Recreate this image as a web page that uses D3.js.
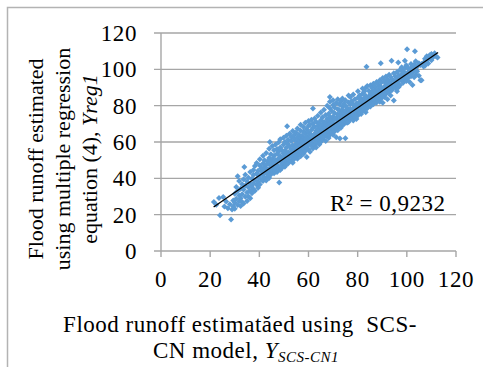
<!DOCTYPE html>
<html>
<head>
<meta charset="utf-8">
<style>
    body { margin: 0; background: #fff; }
    svg { display: block; font-family: 'Liberation Serif', 'Times New Roman', serif; }
    .tick-label { font-size: 23px; letter-spacing: 0.6px; fill: #000; }
    .title { font-size: 23px; letter-spacing: 0.5px; fill: #000; white-space: pre; }
    .ytitle { font-size: 22px; fill: #000; }
</style>
</head>
<body>
<svg width="483" height="367"></svg>

<script src="https://cdnjs.cloudflare.com/ajax/libs/d3/7.8.5/d3.min.js"></script>
<script>
    // values: [SCS-CN runoff, regression runoff]
    let points = [
        [21.5, 27], [22.5, 25.5], [23.6, 29.2], [24.0, 19.7], [25.3, 29.7], [25.8, 24.5], [26.5, 27.2], [27.2, 23.5],
        [28.5, 17.3], [28.0, 25.8], [28.9, 22.8], [29.4, 24.6], [29.4, 27.8],
        [30.0, 23.2], [30.0, 26.5], [30.0, 31.5], [30.6, 28.8], [30.6, 35.2], [31.2, 41.2], [31.2, 25.3], [31.2, 33.0],
        [31.8, 27.4], [31.8, 30.5], [31.8, 38.5], [32.4, 24.8], [32.4, 34.2], [32.4, 29.0], [33.0, 36.8], [33.0, 31.2], [33.0, 27.0],
        [33.6, 26.1], [33.6, 39.5], [33.6, 33.8], [33.9, 46.3], [34.3, 29.8], [34.3, 36.0], [34.3, 42.0],
        [35.0, 27.5], [35.0, 32.2], [35.0, 38.2], [35.6, 34.9], [35.6, 40.3], [35.6, 30.0],
        [36.3, 29.0], [36.3, 37.0], [36.3, 43.5], [36.3, 33.0], [37.0, 35.2], [37.0, 39.8], [37.0, 31.8],
        [37.6, 41.8], [37.6, 37.2], [37.6, 44.6], [37.6, 34.0], [38.2, 33.2], [38.2, 39.0], [38.2, 46.8],
        [38.9, 36.4], [38.9, 42.6], [38.9, 48.5], [39.5, 38.0], [39.5, 44.2], [39.5, 34.8], [39.5, 40.5],
        [40.2, 41.4], [40.2, 47.0], [40.2, 36.6], [40.2, 50.5], [40.8, 39.2], [40.8, 43.8], [40.8, 45.6],
        [41.5, 38.5], [41.5, 42.0], [41.5, 48.2], [41.5, 52.5], [41.5, 44.8], [42.1, 40.5], [42.1, 46.2], [42.1, 43.1], [42.1, 50.0],
        [42.8, 38.8], [42.8, 44.5], [42.8, 47.6], [42.8, 54.0], [43.4, 42.3], [43.4, 49.4], [43.4, 45.2], [43.4, 41.0],
        [44.0, 43.6], [44.0, 51.2], [44.0, 47.8], [44.0, 56.3], [44.0, 40.2], [44.3, 60.0],
        [44.7, 45.8], [44.7, 42.1], [44.7, 49.0], [44.7, 53.2], [45.3, 44.1], [45.3, 50.6], [45.3, 47.0], [45.3, 57.8],
        [46.0, 42.8], [46.0, 46.3], [46.0, 52.4], [46.0, 48.8], [46.0, 55.5], [46.6, 45.2], [46.6, 50.1], [46.6, 44.0], [46.6, 58.6],
        [47.2, 47.5], [47.2, 53.6], [47.2, 49.6], [47.2, 56.2], [47.2, 43.5], [47.9, 46.0], [47.9, 51.0], [47.9, 54.8], [47.9, 59.8],
        [48.1, 37.7], [48.5, 44.6], [48.5, 49.2], [48.5, 52.3], [48.5, 57.0], [48.5, 61.5],
        [49.1, 47.2], [49.1, 50.8], [49.1, 55.6], [49.1, 45.5], [49.8, 48.6], [49.8, 53.8], [49.8, 58.5], [49.8, 51.6], [49.8, 62.3],
        [50.4, 46.4], [50.4, 50.2], [50.4, 55.0], [50.4, 60.0], [51.0, 49.0], [51.0, 52.6], [51.0, 56.8], [51.0, 63.5], [51.0, 47.6],
        [51.3, 68.7], [51.7, 51.4], [51.7, 54.4], [51.7, 58.9], [51.7, 48.2], [51.7, 61.2],
        [52.3, 50.0], [52.3, 53.2], [52.3, 57.5], [52.3, 64.5], [53.0, 49.4], [53.0, 52.0], [53.0, 55.8], [53.0, 60.6], [53.0, 62.8],
        [53.6, 51.6], [53.6, 54.8], [53.6, 58.2], [53.6, 66.0], [53.6, 48.6], [54.2, 53.4], [54.2, 56.6], [54.2, 61.8], [54.2, 50.6], [54.2, 63.9],
        [54.9, 55.2], [54.9, 58.8], [54.9, 52.4], [54.9, 65.2], [54.9, 60.4], [55.5, 50.8], [55.5, 54.0], [55.5, 57.2], [55.5, 62.6], [55.5, 67.4],
        [56.1, 53.0], [56.1, 56.0], [56.1, 59.6], [56.1, 64.0], [56.1, 61.0], [56.8, 55.4], [56.8, 58.4], [56.8, 52.2], [56.8, 66.2], [56.8, 62.0], [56.8, 69.5],
        [57.4, 54.2], [57.4, 57.8], [57.4, 60.8], [57.4, 63.6], [58.0, 56.6], [58.0, 59.4], [58.0, 53.6], [58.0, 65.8], [58.0, 68.2], [58.0, 62.4],
        [58.7, 55.0], [58.7, 58.0], [58.7, 61.6], [58.7, 64.8], [58.7, 70.6], [59.3, 57.2], [59.3, 60.2], [59.3, 51.8], [59.3, 63.2], [59.3, 67.0],
        [60.0, 56.0], [60.0, 58.8], [60.0, 62.2], [60.0, 65.4], [60.0, 71.6], [60.0, 68.8], [60.6, 54.6], [60.6, 59.6], [60.6, 61.4], [60.6, 64.2], [60.6, 69.6],
        [61.2, 57.8], [61.2, 60.8], [61.2, 63.8], [61.2, 66.6], [61.2, 72.2], [61.8, 78.4], [61.8, 59.0], [61.8, 62.6], [61.8, 56.4], [61.8, 67.8], [61.8, 70.2],
        [62.5, 58.4], [62.5, 61.6], [62.5, 64.6], [62.5, 68.4], [62.5, 73.0], [63.1, 60.4], [63.1, 63.0], [63.1, 66.0], [63.1, 57.0], [63.1, 71.2],
        [63.8, 59.6], [63.8, 62.4], [63.8, 65.6], [63.8, 69.0], [63.8, 74.4], [63.8, 67.2], [64.4, 61.0], [64.4, 64.0], [64.4, 66.8], [64.4, 70.4], [64.4, 58.6],
        [65.0, 62.2], [65.0, 65.2], [65.0, 68.0], [65.0, 72.0], [65.0, 76.2], [65.0, 60.0], [65.7, 63.4], [65.7, 66.4], [65.7, 69.6], [65.7, 61.4], [65.7, 73.6],
        [66.3, 62.8], [66.3, 64.8], [66.3, 67.8], [66.3, 71.0], [66.3, 77.8], [67.0, 64.4], [67.0, 67.0], [67.0, 70.6], [67.0, 60.6], [67.0, 74.8], [67.0, 68.6],
        [67.6, 63.2], [67.6, 66.0], [67.6, 69.2], [67.6, 72.6], [67.6, 80.0], [68.2, 65.4], [68.2, 68.2], [68.2, 71.4], [68.2, 75.6], [68.2, 62.2],
        [68.7, 84.8], [68.7, 63.8], [68.7, 70.0], [68.7, 73.8], [68.7, 78.6], [68.7, 82.2],
        [69.4, 66.8], [69.4, 69.6], [69.4, 72.4], [69.4, 65.0], [69.4, 77.0], [70.0, 67.6], [70.0, 70.8], [70.0, 74.0], [70.0, 64.0], [70.0, 80.4], [70.0, 83.0],
        [70.6, 65.8], [70.6, 68.8], [70.6, 72.8], [70.6, 76.0], [70.6, 79.0], [71.3, 67.2], [71.3, 70.2], [71.3, 73.4], [71.3, 62.6], [71.3, 81.4],
        [71.9, 69.0], [71.9, 71.8], [71.9, 75.2], [71.9, 66.4], [71.9, 78.0], [71.9, 83.6], [72.5, 68.4], [72.5, 71.0], [72.5, 74.6], [72.5, 77.6], [72.5, 80.8],
        [72.8, 61.9], [73.2, 70.0], [73.2, 73.0], [73.2, 76.4], [73.2, 67.8], [73.2, 82.4],
        [73.8, 71.6], [73.8, 74.4], [73.8, 77.8], [73.8, 69.4], [73.8, 79.6], [73.8, 84.0], [74.4, 69.8], [74.4, 72.8], [74.4, 75.8], [74.4, 81.0],
        [75.0, 62.0], [75.0, 71.2], [75.0, 74.0], [75.0, 77.2], [75.0, 80.0], [75.0, 83.0], [75.7, 72.4], [75.7, 75.4], [75.7, 78.8], [75.7, 70.6],
        [76.3, 73.6], [76.3, 76.6], [76.3, 71.0], [76.3, 81.8], [76.3, 85.6], [77.0, 84.8], [77.0, 72.6], [77.0, 75.0], [77.0, 78.2], [77.0, 80.6],
        [77.6, 74.2], [77.6, 77.4], [77.6, 73.0], [77.6, 82.6], [78.2, 75.2], [78.2, 78.4], [78.2, 71.8], [78.2, 80.8], [78.2, 86.2],
        [78.9, 73.6], [78.9, 76.8], [78.9, 79.6], [78.9, 83.6], [79.5, 75.8], [79.5, 78.0], [79.5, 81.2], [79.5, 72.6],
        [80.1, 77.2], [80.1, 80.2], [80.1, 74.6], [80.1, 84.4], [80.1, 88.0], [80.8, 76.0], [80.8, 79.0], [80.8, 82.2], [80.8, 85.6],
        [81.4, 78.2], [81.4, 81.4], [81.4, 75.4], [81.4, 83.8], [82.0, 79.4], [82.0, 82.6], [82.0, 77.0], [82.0, 86.6], [82.0, 89.4],
        [82.7, 80.6], [82.7, 78.0], [82.7, 84.2], [82.7, 87.8], [83.3, 79.0], [83.3, 82.0], [83.3, 85.4], [83.3, 76.4], [83.3, 89.8],
        [83.6, 101.4], [83.9, 81.2], [83.9, 83.8], [83.9, 78.6], [83.9, 90.8], [84.5, 82.4], [84.5, 85.0], [84.5, 80.0], [84.5, 88.2],
        [85.2, 83.2], [85.2, 86.4], [85.2, 79.6], [85.2, 91.2], [85.2, 84.6], [85.8, 81.6], [85.8, 84.8], [85.8, 87.6], [85.8, 89.8],
        [86.4, 83.8], [86.4, 86.0], [86.4, 80.8], [86.4, 92.0], [87.1, 82.6], [87.1, 85.4], [87.1, 88.6], [87.1, 90.4],
        [87.7, 84.6], [87.7, 87.2], [87.7, 81.8], [87.7, 93.0], [88.3, 86.2], [88.3, 89.0], [88.3, 83.4], [88.3, 91.6],
        [89.0, 85.2], [89.0, 88.0], [89.0, 82.2], [89.0, 94.0], [89.0, 90.6], [89.4, 103.3], [89.6, 87.0], [89.6, 84.0], [89.6, 90.0], [89.6, 92.8],
        [90.2, 86.0], [90.2, 88.8], [90.2, 81.6], [90.2, 95.2], [90.9, 87.8], [90.9, 90.6], [90.9, 84.8], [90.9, 93.4],
        [91.5, 89.0], [91.5, 86.4], [91.5, 92.2], [91.5, 96.0], [92.1, 88.2], [92.1, 91.0], [92.1, 83.6], [92.1, 94.4],
        [92.8, 90.2], [92.8, 87.2], [92.8, 93.2], [92.8, 97.0], [93.4, 89.4], [93.4, 92.0], [93.4, 85.6], [93.4, 95.8],
        [93.8, 104.7], [94.0, 91.2], [94.0, 88.6], [94.0, 94.6], [94.7, 90.6], [94.7, 93.6], [94.7, 82.8], [94.7, 97.8],
        [95.3, 92.4], [95.3, 89.8], [95.3, 96.2], [96.0, 91.8], [96.0, 94.8], [96.0, 98.6], [96.0, 88.0], [96.5, 103.8],
        [96.6, 93.4], [96.6, 96.6], [96.6, 90.2], [97.2, 91.3], [97.2, 95.0], [97.2, 99.6], [97.9, 93.8], [97.9, 97.4], [97.9, 101.2],
        [98.5, 96.0], [98.5, 92.6], [98.5, 99.0], [99.2, 104.7], [99.2, 94.6], [99.2, 97.8], [99.2, 100.6],
        [99.8, 96.8], [99.8, 93.6], [99.8, 102.2], [100.1, 111.1], [100.4, 98.4], [100.4, 95.2], [100.4, 101.0],
        [101.1, 97.4], [101.1, 99.8], [101.1, 93.0], [101.7, 100.4], [101.7, 96.2], [101.7, 103.0],
        [102.3, 98.2], [102.3, 101.6], [102.3, 91.4], [103.0, 99.6], [103.0, 102.6], [103.0, 95.6], [103.3, 110.0],
        [103.6, 100.8], [103.6, 97.0], [103.6, 104.4], [104.2, 101.4], [104.2, 99.0], [104.9, 103.4], [104.9, 96.4],
        [105.5, 102.4], [105.5, 94.0], [106.0, 94.0], [106.0, 103.0], [106.8, 103.6], [106.8, 101.6], [107.4, 105.8], [107.4, 102.0],
        [108.1, 104.6], [108.1, 107.2], [108.7, 103.2], [108.7, 106.0], [109.3, 107.8], [110.0, 105.0], [110.0, 108.4],
        [110.7, 106.6], [111.3, 108.8], [112.0, 107.0], [112.5, 106.5]
    ];

    let xTicks = [0, 20, 40, 60, 80, 100, 120];
    let yTicks = [0, 20, 40, 60, 80, 100, 120];

    // linear trend line
    let trendSlope = 0.932;
    let trendIntercept = 4.25;
    let rSquared = "R² = 0,9232";

    let svg = d3.select("svg");

    let plotLeft = 161, plotRight = 456, plotTop = 33, plotBottom = 251;

    let x = d3.scaleLinear().domain([0, 120]).range([plotLeft, plotRight]);
    let y = d3.scaleLinear().domain([0, 120]).range([plotBottom, plotTop]);

    // figure frame (only top and left edges are visible)
    svg.append("path")
        .attr("d", "M7.5,367 V7.5 H483")
        .style("fill", "none")
        .style("stroke", "#b3b3b3")
        .style("stroke-width", 1.5);

    // horizontal gridlines with outside ticks
    svg.selectAll(".grid")
        .data(yTicks)
        .join("line")
        .attr("x1", plotLeft - 7)
        .attr("x2", plotRight)
        .attr("y1", d => y(d))
        .attr("y2", d => y(d))
        .style("stroke", "#a6a6a6")
        .style("stroke-width", 1.4);

    // vertical axis line
    svg.append("line")
        .attr("x1", plotLeft).attr("x2", plotLeft)
        .attr("y1", y(120)).attr("y2", y(0))
        .style("stroke", "#a6a6a6")
        .style("stroke-width", 1.4);

    // x ticks
    svg.selectAll(".xtick")
        .data(xTicks)
        .join("line")
        .attr("x1", d => x(d))
        .attr("x2", d => x(d))
        .attr("y1", y(0))
        .attr("y2", y(0) + 6)
        .style("stroke", "#a6a6a6")
        .style("stroke-width", 1.4);

    svg.selectAll(".ylabel")
        .data(yTicks)
        .join("text")
        .attr("class", "tick-label")
        .attr("x", plotLeft - 24)
        .attr("y", d => y(d) + 8)
        .attr("text-anchor", "end")
        .text(d => d);

    svg.selectAll(".xlabel")
        .data(xTicks)
        .join("text")
        .attr("class", "tick-label")
        .attr("x", d => x(d))
        .attr("y", 287)
        .attr("text-anchor", "middle")
        .text(d => d);

    // points as diamonds
    let diamond = d3.symbol().type(d3.symbolSquare).size(18);
    svg.selectAll(".pt")
        .data(points)
        .join("path")
        .attr("d", diamond)
        .attr("transform", d => "translate(" + x(d[0]) + "," + y(d[1]) + ") rotate(45)")
        .style("fill", "#5b9bd5");

    // trend line
    let ext = d3.extent(points, d => d[0]);
    svg.append("line")
        .attr("x1", x(ext[0] - 0.1))
        .attr("x2", x(ext[1] + 0.2))
        .attr("y1", y(trendSlope * (ext[0] - 0.1) + trendIntercept))
        .attr("y2", y(trendSlope * (ext[1] + 0.2) + trendIntercept))
        .style("stroke", "#000")
        .style("stroke-width", 1.3);

    svg.append("text")
        .attr("class", "title")
        .attr("x", 330)
        .attr("y", 211)
        .text(rSquared);

    // x axis title
    svg.append("text")
        .attr("class", "title")
        .attr("x", 240)
        .attr("y", 332)
        .attr("text-anchor", "middle")
        .text("Flood runoff estimatăed using  SCS-");

    let t2 = svg.append("text")
        .attr("class", "title")
        .attr("x", 246)
        .attr("y", 358)
        .attr("text-anchor", "middle");
    t2.append("tspan").text("CN model, ");
    t2.append("tspan").style("font-style", "italic").text("Y");
    t2.append("tspan").style("font-style", "italic").style("font-size", "15px").attr("dy", 4).text("SCS-CN1");

    // y axis title
    let yTitle = ["Flood runoff estimated", "using multiple regression"];
    let yt = svg.append("g").attr("transform", "translate(0,159) rotate(-90)");
    yt.selectAll(".yt")
        .data(yTitle)
        .join("text")
        .attr("class", "ytitle")
        .attr("x", 0)
        .attr("y", (d, i) => 43 + i * 27)
        .attr("text-anchor", "middle")
        .text(d => d);
    let l3 = yt.append("text")
        .attr("class", "ytitle")
        .attr("x", 0)
        .attr("y", 97)
        .attr("text-anchor", "middle");
    l3.append("tspan").text("equation (4), ");
    l3.append("tspan").style("font-style", "italic").text("Yreg1");
</script>
</body>
</html>
